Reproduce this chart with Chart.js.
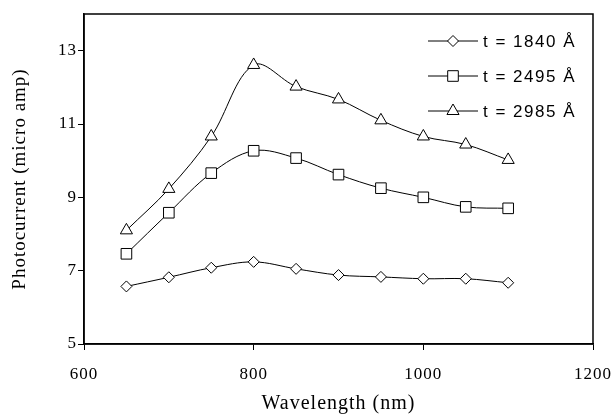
<!DOCTYPE html>
<html>
<head>
<meta charset="utf-8">
<script src="https://cdn.jsdelivr.net/npm/chart.js@4"></script>
<style>
  html, body { margin: 0; padding: 0; background: #fff; }
  #wrap { width: 615px; height: 414px; }
</style>
</head>
<body>
<div id="wrap"><canvas id="chart"></canvas></div>
<script>
// Wavelength (nm) along the x axis
const wavelengths = [650, 700, 750, 800, 850, 900, 950, 1000, 1050, 1100];

// Photocurrent (micro amp) for each film thickness
const current1840 = [6.57, 6.82, 7.08, 7.24, 7.05, 6.88, 6.83, 6.78, 6.78, 6.67];
const current2495 = [7.46, 8.58, 9.66, 10.27, 10.07, 9.62, 9.25, 9.00, 8.74, 8.70];
const current2985 = [8.10, 9.23, 10.66, 12.61, 12.02, 11.67, 11.10, 10.66, 10.44, 10.02];

const seriesLabels = ['t = 1840 Å', 't = 2495 Å', 't = 2985 Å'];
const xTicks = [600, 800, 1000, 1200];
const yTicks = [5, 7, 9, 11, 13];

const serif = '"Liberation Serif", "Times New Roman", serif';

function toPoints(values) {
    return wavelengths.map((w, i) => ({ x: w, y: values[i] }));
}

function makeDataset(label, values, style, radius) {
    return {
        label,
        data: toPoints(values),
        borderColor: '#000',
        borderWidth: 1,
        backgroundColor: '#fff',
        pointStyle: style,
        pointRadius: radius,
        pointBorderColor: '#000',
        pointBackgroundColor: '#fff',
        pointBorderWidth: 1,
        tension: 0.35
    };
}

// The original's text is a bit wide, so space the letters out a little
const letterSpacing = {
    id: 'letterSpacing',
    beforeDraw(chart) {
        chart.ctx.letterSpacing = '1px';
    }
};

// Box around the plot area, plus the legend sitting inside it
const frameAndLegend = {
    id: 'frameAndLegend',
    afterDraw(chart) {
        const ctx = chart.ctx;
        const area = chart.chartArea;
        ctx.save();
        ctx.strokeStyle = '#000';
        ctx.lineWidth = 1.5;
        ctx.strokeRect(area.left, area.top, area.right - area.left, area.bottom - area.top);

        const rows = [41, 76, 111];
        chart.data.datasets.forEach((ds, i) => {
            const y = rows[i];
            ctx.strokeStyle = '#000';
            ctx.lineWidth = 1;
            ctx.beginPath();
            ctx.moveTo(428, y);
            ctx.lineTo(478, y);
            ctx.stroke();
            ctx.fillStyle = '#fff';
            Chart.helpers.drawPoint(ctx, {
                pointStyle: ds.pointStyle,
                radius: ds.pointRadius,
                borderWidth: 1
            }, 453, y);
            ctx.fillStyle = '#000';
            ctx.letterSpacing = '1.5px';
            ctx.font = '17px "Liberation Sans", Arial, sans-serif';
            ctx.textBaseline = 'middle';
            ctx.textAlign = 'left';
            ctx.fillText(ds.label, 483, y + 1);
        });
        ctx.restore();
    }
};

new Chart(document.getElementById('chart'), {
    type: 'line',
    data: {
        datasets: [
            makeDataset(seriesLabels[0], current1840, 'rectRot', 5.5),
            makeDataset(seriesLabels[1], current2495, 'rect', 7.5),
            makeDataset(seriesLabels[2], current2985, 'triangle', 7)
        ]
    },
    options: {
        responsive: true,
        maintainAspectRatio: false,
        animation: false,
        layout: { padding: { left: 0, right: 22, top: 14, bottom: 0 } },
        plugins: {
            legend: { display: false },
            tooltip: { enabled: false }
        },
        scales: {
            x: {
                type: 'linear',
                min: 600,
                max: 1200,
                afterBuildTicks: (scale) => { scale.ticks = xTicks.map(v => ({ value: v })); },
                afterFit: (scale) => {
                    scale.height = 70;
                    // let the end labels hang past the plot edge, as in the original
                    scale.paddingLeft = 0;
                    scale.paddingRight = 0;
                },
                grid: { drawOnChartArea: false, tickLength: 6, tickColor: '#000', lineWidth: 1 },
                border: { color: '#000', width: 1.5 },
                ticks: {
                    color: '#000',
                    padding: 14,
                    font: { family: serif, size: 17 },
                    callback: (v) => String(v)
                },
                title: {
                    display: true,
                    text: 'Wavelength (nm)',
                    color: '#000',
                    font: { family: serif, size: 20, lineHeight: 1 },
                    padding: { top: 0, bottom: 0 }
                }
            },
            y: {
                min: 5,
                max: 14,
                afterBuildTicks: (scale) => { scale.ticks = yTicks.map(v => ({ value: v })); },
                afterFit: (scale) => {
                    scale.width = 84;
                    scale.paddingTop = 0;
                    scale.paddingBottom = 0;
                },
                grid: { drawOnChartArea: false, tickLength: 6, tickColor: '#000', lineWidth: 1 },
                border: { color: '#000', width: 1.5 },
                ticks: { color: '#000', padding: 1, font: { family: serif, size: 17 } },
                title: {
                    display: true,
                    text: 'Photocurrent (micro amp)',
                    color: '#000',
                    font: { family: serif, size: 19, lineHeight: 1 },
                    padding: { top: 11, bottom: 0 }
                }
            }
        }
    },
    plugins: [letterSpacing, frameAndLegend]
});
</script>
</body>
</html>
